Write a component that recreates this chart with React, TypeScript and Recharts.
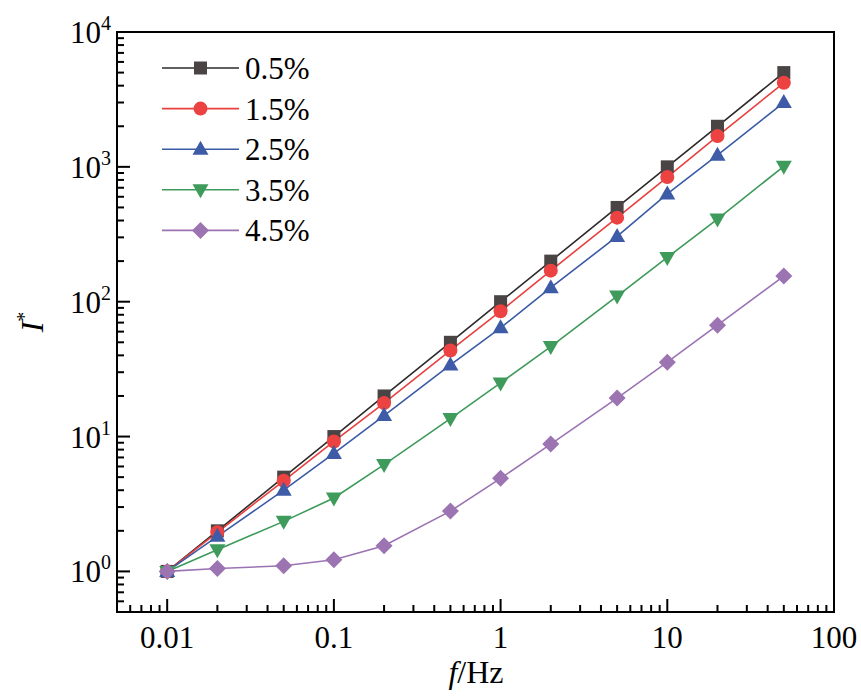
import React from "react";
import { LineChart, Line, XAxis, YAxis, ReferenceArea } from "recharts";

// ---- data ----
const frequencies = [0.01, 0.02, 0.05, 0.1, 0.2, 0.5, 1, 2, 5, 10, 20, 50];
const seriesNames = ["0.5%", "1.5%", "2.5%", "3.5%", "4.5%"];
const s05 = [1, 2, 5, 10, 20, 50, 100, 200, 500, 1000, 2000, 5000];
const s15 = [1, 1.95, 4.7, 9.2, 17.7, 43.5, 85, 170, 420, 840, 1690, 4200];
const s25 = [1, 1.82, 4.0, 7.5, 14.3, 34, 64, 127, 305, 630, 1220, 3000];
const s35 = [1, 1.45, 2.35, 3.5, 6.2, 13.6, 25, 46.5, 110, 213, 410, 1010];
const s45 = [1, 1.05, 1.1, 1.22, 1.55, 2.8, 4.9, 8.8, 19.3, 35.6, 67, 155];

const xMajorTicks = [0.01, 0.1, 1, 10, 100];
const xTickLabels = ["0.01", "0.1", "1", "10", "100"];
const yMajorTicks = [1, 10, 100, 1000, 10000];
const yTickExponents = ["0", "1", "2", "3", "4"];

const xDomain = [0.005, 100];
const yDomain = [0.5, 10000];

// minor tick values (mantissas 2..9 per decade, inside domain)
const mantissas = [2, 3, 4, 5, 6, 7, 8, 9];
const buildTicks = (dom: number[], majors: number[]) => {
  const out: number[] = [...majors];
  for (let e = -4; e <= 4; e++) {
    for (const m of mantissas) {
      const v = parseFloat((m * Math.pow(10, e)).toPrecision(6));
      if (v >= dom[0] - 1e-12 && v <= dom[1] + 1e-12 && !out.includes(v)) out.push(v);
    }
  }
  return out.sort((a, b) => a - b);
};
const xTicks = buildTicks(xDomain, xMajorTicks);
const yTicks = buildTicks(yDomain, yMajorTicks);

const seriesValues = [s05, s15, s25, s35, s45];
const keys = ["a", "b", "c", "d", "e"];
const rows = frequencies.map((f, i) => {
  const r: any = { f };
  keys.forEach((k, j) => (r[k] = seriesValues[j][i]));
  return r;
});

const lineColors = ["#2e2a2a", "#e8403f", "#3b5aa6", "#3e9a5a", "#9b73b2"];
const markerColors = ["#4a4444", "#ec4242", "#3d5ba6", "#3f9b5b", "#9c74b2"];
const shapes = ["square", "circle", "triangle", "invtriangle", "diamond"];

const FONT = '"Liberation Serif", "Times New Roman", serif';

const Marker = ({ cx, cy, shape, color }: any) => {
  if (cx == null || cy == null) return null;
  switch (shape) {
    case "square":
      return <rect x={cx - 6.5} y={cy - 6.5} width={13} height={13} fill={color} />;
    case "circle":
      return <circle cx={cx} cy={cy} r={7} fill={color} />;
    case "triangle":
      return (
        <polygon
          points={`${cx},${cy - 8.5} ${cx + 8},${cy + 5.5} ${cx - 8},${cy + 5.5}`}
          fill={color}
        />
      );
    case "invtriangle":
      return (
        <polygon
          points={`${cx},${cy + 8.5} ${cx + 8},${cy - 5.5} ${cx - 8},${cy - 5.5}`}
          fill={color}
        />
      );
    case "diamond":
      return (
        <polygon
          points={`${cx},${cy - 8.5} ${cx + 8.5},${cy} ${cx},${cy + 8.5} ${cx - 8.5},${cy}`}
          fill={color}
        />
      );
  }
  return null;
};

const isMajor = (v: number) => {
  const l = Math.log10(v);
  return Math.abs(l - Math.round(l)) < 1e-6;
};

const XTick = (props: any) => {
  const { x, y, payload } = props;
  const v = payload.value;
  const major = isMajor(v);
  const idx = xMajorTicks.findIndex((m) => Math.abs(m - v) < 1e-9);
  return (
    <g>
      <line x1={x} x2={x} y1={y} y2={y - (major ? 13 : 7)} stroke="#000" strokeWidth={2} />
      {idx >= 0 && (
        <text x={x} y={y + 36} textAnchor="middle" fontFamily={FONT} fontSize={31} fill="#000">
          {xTickLabels[idx]}
        </text>
      )}
    </g>
  );
};

const YTick = (props: any) => {
  const { x, y, payload } = props;
  const v = payload.value;
  const major = isMajor(v);
  const idx = yMajorTicks.findIndex((m) => Math.abs(m - v) < 1e-9);
  return (
    <g>
      <line x1={x} x2={x + (major ? 13 : 7)} y1={y} y2={y} stroke="#000" strokeWidth={2} />
      {idx >= 0 && (
        <text x={x - 6} y={y + 11} textAnchor="end" fontFamily={FONT} fontSize={31} fill="#000">
          10
          <tspan dy={-13} fontSize={20}>
            {yTickExponents[idx]}
          </tspan>
        </text>
      )}
    </g>
  );
};

const LegendOverlay = () => (
  <svg
    width={200}
    height={220}
    style={{ position: "absolute", left: 162, top: 58, overflow: "visible" }}
  >
    {seriesNames.map((name, i) => {
      const cy = 10 + i * 40.6;
      return (
        <g key={name}>
          <line x1={0} x2={77} y1={cy} y2={cy} stroke={lineColors[i]} strokeWidth={1.6} />
          <Marker cx={38.5} cy={cy} shape={shapes[i]} color={markerColors[i]} />
          <text x={83} y={cy + 11} fontFamily={FONT} fontSize={31} fill="#000">
            {name}
          </text>
        </g>
      );
    })}
  </svg>
);

export default function App() {
  return (
    <div style={{ position: "absolute", left: 0, top: 0, width: 861, height: 696, background: "#fff" }}>
      <LineChart
        width={861}
        height={696}
        data={rows}
        margin={{ top: 32, right: 27, bottom: 0, left: 0 }}
      >
        <XAxis
          dataKey="f"
          type="number"
          scale="log"
          domain={xDomain}
          allowDataOverflow
          ticks={xTicks}
          interval={0}
          tickSize={0}
          tickMargin={0}
          tick={<XTick />}
          height={84}
          axisLine={{ stroke: "#000", strokeWidth: 2 }}
          tickLine={false}
          label={{
            content: () => (
              <text x={476} y={683} textAnchor="middle" fontFamily={FONT} fontSize={32} fill="#000">
                <tspan fontStyle="italic">f</tspan>/Hz
              </text>
            ),
          }}
        />
        <YAxis
          type="number"
          scale="log"
          domain={yDomain}
          allowDataOverflow
          ticks={yTicks}
          interval={0}
          tickSize={0}
          tickMargin={0}
          tick={<YTick />}
          width={117}
          axisLine={{ stroke: "#000", strokeWidth: 2 }}
          tickLine={false}
          label={{
            content: () => (
              <text
                transform="translate(43,322) rotate(-90)"
                textAnchor="middle"
                fontFamily={FONT}
                fontSize={32}
                fill="#000"
              >
                <tspan fontStyle="italic">I</tspan>
                <tspan dy={-12} fontSize={20}>
                  *
                </tspan>
              </text>
            ),
          }}
        />
        <ReferenceArea
          x1={xDomain[0]}
          x2={xDomain[1]}
          y1={yDomain[0]}
          y2={yDomain[1]}
          stroke="#000"
          strokeWidth={2}
          fill="none"
          fillOpacity={0}
          ifOverflow="visible"
        />
        {keys.map((k, i) => (
          <Line
            key={k}
            dataKey={k}
            name={seriesNames[i]}
            type="linear"
            stroke={lineColors[i]}
            strokeWidth={1.6}
            isAnimationActive={false}
            dot={(p: any) => (
              <Marker key={`${k}-${p.index}`} cx={p.cx} cy={p.cy} shape={shapes[i]} color={markerColors[i]} />
            )}
            activeDot={false}
          />
        ))}
      </LineChart>
      <LegendOverlay />
    </div>
  );
}
